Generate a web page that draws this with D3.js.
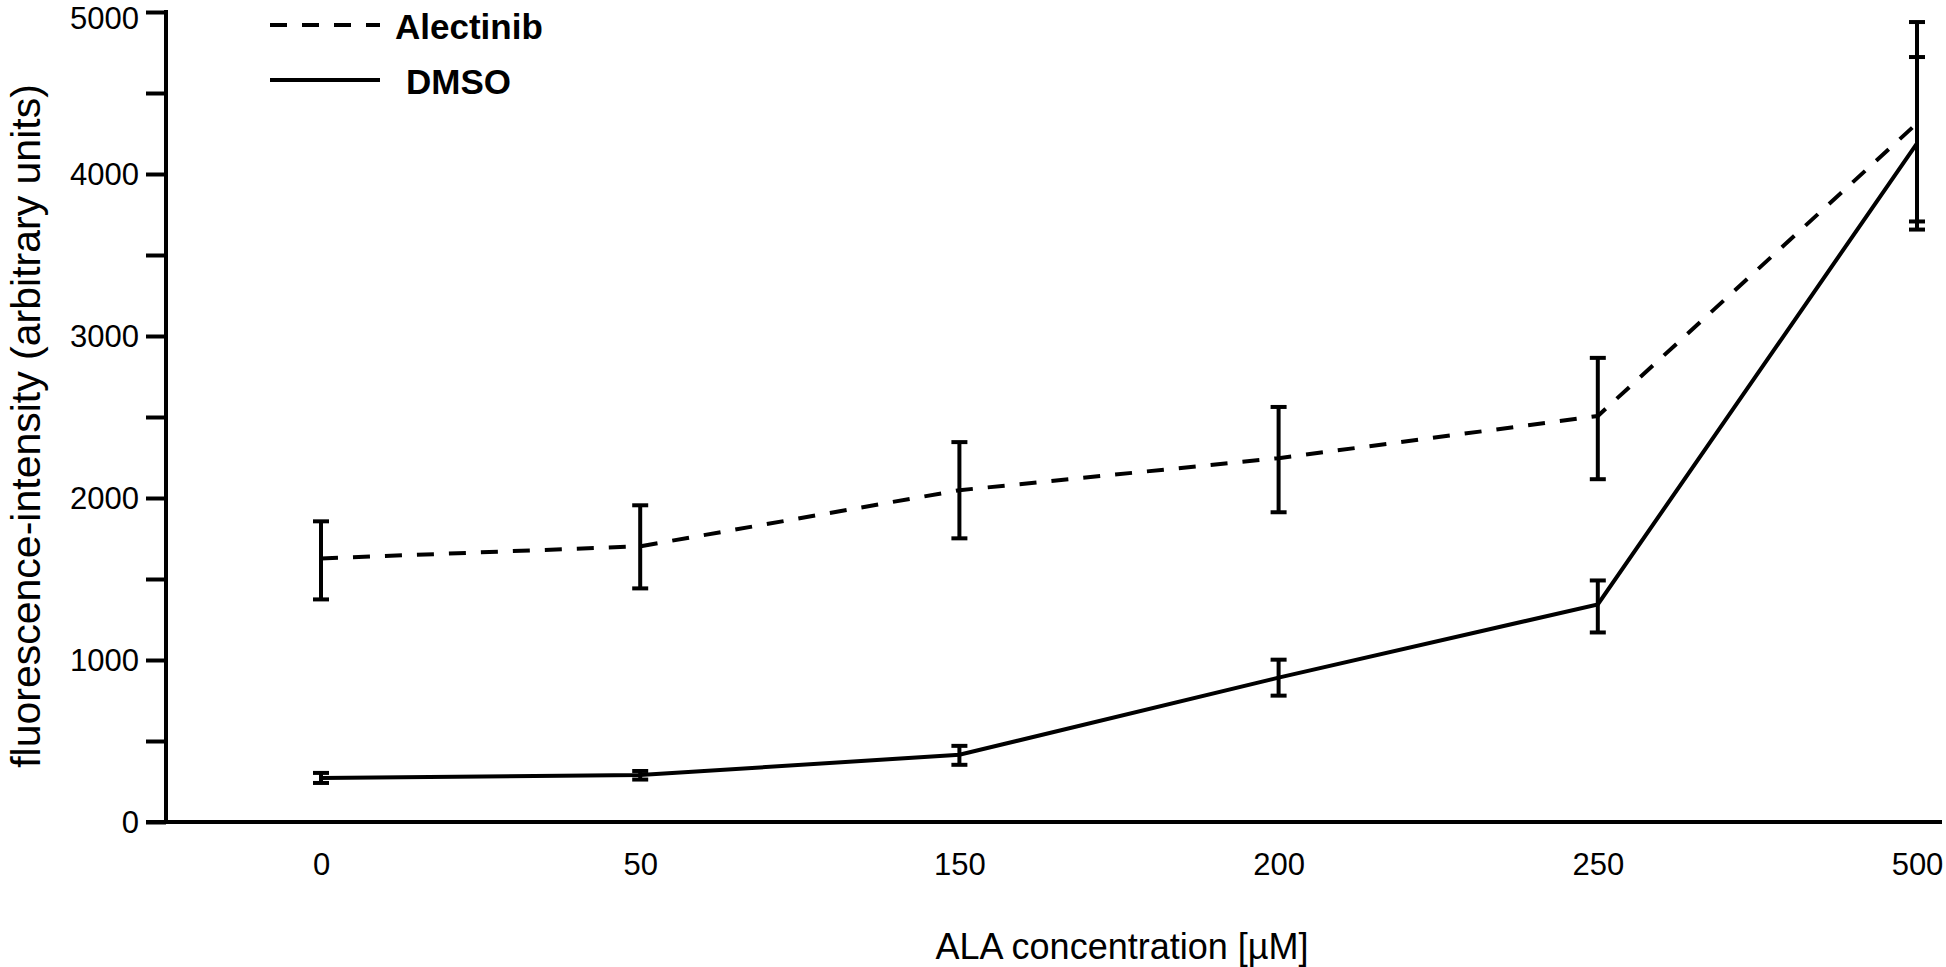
<!DOCTYPE html>
<html>
<head>
<meta charset="utf-8">
<script src="https://cdn.jsdelivr.net/npm/d3@7"></script>
<style>
  html, body { margin: 0; padding: 0; background: #fff; }
  svg { display: block; }
  text { font-family: "Liberation Sans", Arial, Helvetica, sans-serif; fill: #000; }
</style>
</head>
<body>
<svg id="chart" width="1946" height="967"></svg>
<script>
// ---- data ----
const categories = ["0", "50", "150", "200", "250", "500"];
const alectinibMean  = [1627, 1702, 2048, 2246, 2506, 4313];
const alectinibUpper = [1856, 1955, 2345, 2562, 2865, 4938];
const alectinibLower = [1374, 1442, 1751, 1912, 2116, 3707];
const dmsoMean  = [272, 290, 415, 891, 1343, 4189];
const dmsoUpper = [303, 315, 470, 1002, 1491, 4722];
const dmsoLower = [241, 262, 353, 780, 1170, 3657];
const yMajorTicks = [0, 1000, 2000, 3000, 4000, 5000];
const yMinorTicks = [500, 1500, 2500, 3500, 4500];
const seriesNames = ["Alectinib", "DMSO"];
const xTitle = "ALA concentration [µM]";
const yTitle = "fluorescence-intensity (arbitrary units)";

// ---- layout ----
const svg = d3.select("#chart");
const axisX = 166, axisRight = 1942, yTop = 12, yBottom = 822;
const x = d3.scalePoint().domain(categories).range([321, 1917]);
const y = d3.scaleLinear().domain([0, 5000]).range([yBottom, yTop]);
const SW = 4;

const series = [
  { name: seriesNames[0], mean: alectinibMean, up: alectinibUpper, lo: alectinibLower, dash: "17,15" },
  { name: seriesNames[1], mean: dmsoMean, up: dmsoUpper, lo: dmsoLower, dash: null }
];

// ---- y axis ----
const yAxis = d3.axisLeft(y).tickValues(yMajorTicks).tickSize(20).tickPadding(7).tickFormat(d3.format("d"));
const gy = svg.append("g").attr("transform", `translate(${axisX},0)`).call(yAxis);
gy.select(".domain").remove();
gy.selectAll(".tick line").attr("stroke", "#000").attr("stroke-width", SW);
gy.selectAll(".tick text").style("font-size", "31px")
  .attr("dy", d => d === 5000 ? "0.52em" : "0.35em");
const yMinor = d3.axisLeft(y).tickValues(yMinorTicks).tickSize(20).tickFormat("");
const gym = svg.append("g").attr("transform", `translate(${axisX},0)`).call(yMinor);
gym.select(".domain").remove();
gym.selectAll(".tick line").attr("stroke", "#000").attr("stroke-width", SW);
svg.append("line").attr("x1", axisX).attr("x2", axisX)
  .attr("y1", y(5000) - SW / 2).attr("y2", y(0) + SW / 2)
  .attr("stroke", "#000").attr("stroke-width", SW);

// ---- x axis ----
const xAxis = d3.axisBottom(x).tickSize(0).tickPadding(31);
const gx = svg.append("g").attr("transform", `translate(0,${yBottom})`).call(xAxis);
gx.select(".domain").remove();
gx.selectAll(".tick text").style("font-size", "31px");
svg.append("line").attr("x1", axisX - 20).attr("x2", axisRight)
  .attr("y1", y(0)).attr("y2", y(0))
  .attr("stroke", "#000").attr("stroke-width", SW);

// ---- titles ----
svg.append("text").attr("x", 1122).attr("y", 959).attr("text-anchor", "middle")
  .style("font-size", "36px").text(xTitle);
svg.append("text").attr("transform", `translate(40,426) rotate(-90)`).attr("text-anchor", "middle")
  .style("font-size", "41px").text(yTitle);

// ---- series ----
const line = d3.line().x(d => x(d.c)).y(d => y(d.v));
series.forEach(s => {
  const pts = categories.map((c, i) => ({ c, v: s.mean[i], up: s.up[i], lo: s.lo[i] }));
  const g = svg.append("g");
  g.append("path").datum(pts).attr("d", line)
    .attr("fill", "none").attr("stroke", "#000").attr("stroke-width", SW)
    .attr("stroke-dasharray", s.dash);
  const eb = g.selectAll(".eb").data(pts).enter().append("g");
  eb.append("line").attr("x1", d => x(d.c)).attr("x2", d => x(d.c))
    .attr("y1", d => y(d.up)).attr("y2", d => y(d.lo))
    .attr("stroke", "#000").attr("stroke-width", SW);
  ["up", "lo"].forEach(k => {
    eb.append("line").attr("x1", d => x(d.c) - 8).attr("x2", d => x(d.c) + 8)
      .attr("y1", d => y(d[k])).attr("y2", d => y(d[k]))
      .attr("stroke", "#000").attr("stroke-width", SW);
  });
});

// ---- legend ----
const legend = [
  { name: seriesNames[0], dash: "17,15", ly: 25, tx: 395, ty: 39 },
  { name: seriesNames[1], dash: null, ly: 80, tx: 406, ty: 94 }
];
legend.forEach(l => {
  svg.append("line").attr("x1", 270).attr("x2", 380).attr("y1", l.ly).attr("y2", l.ly)
    .attr("stroke", "#000").attr("stroke-width", SW).attr("stroke-dasharray", l.dash);
  svg.append("text").attr("x", l.tx).attr("y", l.ty)
    .style("font-size", "35px").style("font-weight", "bold").text(l.name);
});
</script>
</body>
</html>
